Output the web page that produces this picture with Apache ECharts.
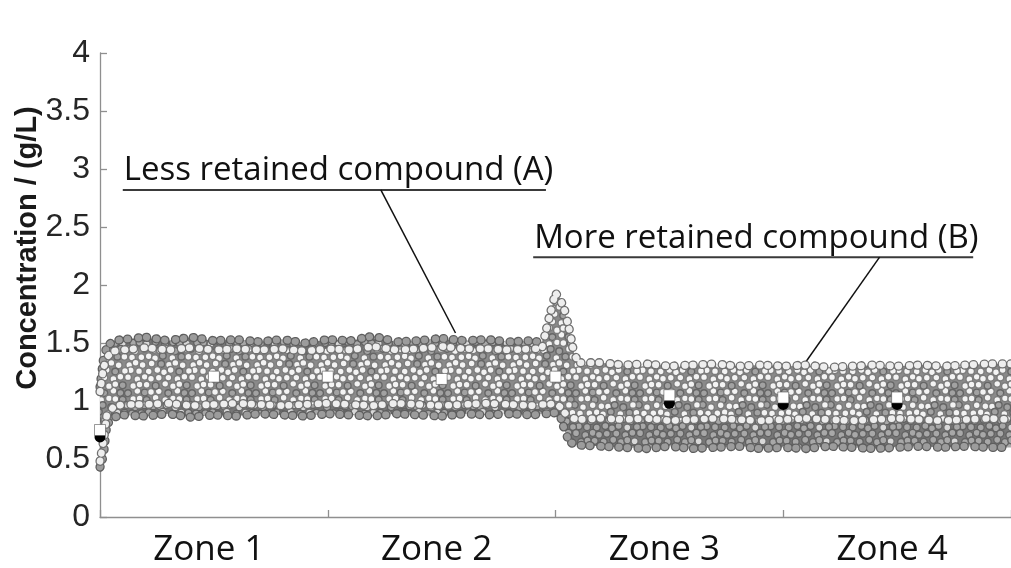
<!DOCTYPE html>
<html>
<head>
<meta charset="utf-8">
<script src="https://cdn.jsdelivr.net/npm/echarts@6/dist/echarts.min.js"></script>
<style>
html,body{margin:0;padding:0;background:#fff;}
#chart{width:1011px;height:568px;}
</style>
</head>
<body>
<div id="chart"></div>
<script>
// ---------------- DATA ----------------
const zones = ['Zone 1', 'Zone 2', 'Zone 3', 'Zone 4'];

// x position along the run, in zone units (0..4)
const envU = [0, 0.015, 0.03, 0.06, 0.1,
  0.2, 0.3, 0.4, 0.5, 0.6, 0.7, 0.8, 0.9,
  1.0, 1.1, 1.2, 1.3, 1.4, 1.5, 1.6, 1.7, 1.8, 1.9,
  1.94, 1.97, 2.0, 2.02, 2.04, 2.06, 2.08, 2.1,
  2.2, 2.3, 2.4, 2.5, 2.6, 2.7, 2.8, 2.9,
  3.0, 3.1, 3.2, 3.3, 3.4, 3.5, 3.6, 3.7, 3.8, 3.9,
  4.0];

// Less retained compound (A): upper / lower edge of the point cloud (g/L)
const aHigh = [1.08, 1.28, 1.38, 1.43, 1.44,
  1.46, 1.44, 1.46, 1.44, 1.45, 1.44, 1.45, 1.43,
  1.45, 1.44, 1.47, 1.44, 1.45, 1.47, 1.45, 1.45, 1.44, 1.45,
  1.45, 1.70, 1.93, 1.88, 1.78, 1.62, 1.42, 1.33,
  1.33, 1.31, 1.32, 1.30, 1.31, 1.32, 1.30, 1.31,
  1.30, 1.31, 1.29, 1.30, 1.31, 1.30, 1.31, 1.30, 1.31, 1.32,
  1.32];
const aLow = [0.48, 0.65, 0.88, 0.95, 0.97,
  0.97, 0.98, 0.96, 0.97, 0.98, 0.97, 0.96, 0.97,
  0.98, 0.97, 0.96, 0.98, 0.97, 0.96, 0.97, 0.98, 0.97, 0.96,
  0.97, 0.97, 0.98, 0.95, 0.90, 0.86, 0.85, 0.84,
  0.85, 0.84, 0.85, 0.83, 0.84, 0.85, 0.84, 0.83,
  0.84, 0.85, 0.84, 0.83, 0.84, 0.85, 0.84, 0.83, 0.84, 0.85,
  0.84];

// More retained compound (B): upper / lower edge of the point cloud (g/L)
const bHigh = [1.12, 1.36, 1.47, 1.52, 1.53,
  1.55, 1.52, 1.55, 1.52, 1.53, 1.51, 1.53, 1.50,
  1.53, 1.52, 1.56, 1.51, 1.52, 1.54, 1.52, 1.53, 1.51, 1.52,
  1.50, 1.52, 1.56, 1.52, 1.38, 1.25, 1.22, 1.21,
  1.22, 1.21, 1.23, 1.21, 1.22, 1.21, 1.23, 1.22,
  1.23, 1.21, 1.22, 1.21, 1.23, 1.22, 1.21, 1.22, 1.23, 1.22,
  1.23];
const bLow = [0.43, 0.53, 0.80, 0.86, 0.88,
  0.87, 0.89, 0.86, 0.88, 0.87, 0.89, 0.88, 0.87,
  0.89, 0.88, 0.87, 0.89, 0.88, 0.87, 0.89, 0.88, 0.89, 0.88,
  0.89, 0.89, 0.90, 0.88, 0.75, 0.65, 0.63, 0.62,
  0.61, 0.60, 0.59, 0.61, 0.59, 0.60, 0.61, 0.59,
  0.60, 0.59, 0.61, 0.60, 0.59, 0.60, 0.61, 0.60, 0.61, 0.60,
  0.60];

// mean markers
const meanU = [0, 0.5, 1, 1.5, 2, 2.5, 3, 3.5];
const meanA = [0.75, 1.21, 1.21, 1.19, 1.21, 1.05, 1.03, 1.03];
const meanB = [0.69, 1.21, 1.21, 1.19, 1.21, 0.98, 0.97, 0.97];

// ---------------- STYLING ----------------
// texture of packed circles used to fill each point cloud (pure styling)
function cellHash(r, k) {
  const s = Math.sin(r * 12.9898 + k * 78.233) * 43758.5453;
  return s - Math.floor(s);
}
function makePattern(bg, mainFill, mainStroke, altFill, altStroke, altShare, rad) {
  const W = 64, H = 56;
  const c = document.createElement('canvas');
  c.width = W; c.height = H;
  const g = c.getContext('2d');
  g.fillStyle = bg; g.fillRect(0, 0, W, H);
  g.lineWidth = 1.4;
  for (let r = 0; r < 8; r++) {
    for (let k = 0; k < 8; k++) {
      const x0 = k * 8 + (r % 2 ? 4 : 0) + 1.4 * Math.sin(r * 2.1 + k * 1.3);
      const y0 = r * 7 + 1.2 * Math.cos(r * 1.7 + k * 2.6);
      const alt = cellHash(r, k) < altShare;
      for (let dx = -W; dx <= W; dx += W) {
        for (let dy = -H; dy <= H; dy += H) {
          g.beginPath();
          g.arc(x0 + dx, y0 + dy, rad, 0, Math.PI * 2);
          g.fillStyle = alt ? altFill : mainFill; g.fill();
          g.strokeStyle = alt ? altStroke : mainStroke; g.stroke();
        }
      }
    }
  }
  return { image: c, repeat: 'repeat' };
}
const patA = makePattern('#8a8a8a', '#f3f3f3', '#7c7c7c', '#a2a2a2', '#666666', 0.14, 3.4);
const patB = makePattern('#767676', '#a8a8a8', '#626262', '#d8d8d8', '#6c6c6c', 0.12, 3.5);

function bandSeries(name, lo, hi, pattern, dotOuter, dotInner, z) {
  return {
    type: 'custom',
    name: name,
    xAxisIndex: 0,
    yAxisIndex: 0,
    z: z,
    silent: true,
    data: envU.map((u, i) => [u, lo[i], hi[i]]),
    renderItem: function (params, api) {
      if (params.dataIndex !== 0) return null;
      const top = [], bot = [];
      for (let i = 0; i < envU.length; i++) {
        const u = api.value(0, i);
        top.push(api.coord([u, api.value(2, i)]));
        bot.push(api.coord([u, api.value(1, i)]));
      }
      const poly = top.concat(bot.slice().reverse());
      const dash = [0.5, 7.5, 0.5, 9.5, 0.5, 8, 0.5, 10.5];
      const dots = (pts, col, w) => ({
        type: 'polyline',
        shape: { points: pts },
        style: { stroke: col, lineWidth: w, lineDash: dash, lineCap: 'round', fill: null }
      });
      return {
        type: 'group',
        children: [
          { type: 'polygon', shape: { points: poly }, style: { fill: pattern, stroke: null } },
          dots(top, dotOuter, 9.2), dots(top, dotInner, 6.6),
          dots(bot, dotOuter, 9.2), dots(bot, dotInner, 6.6)
        ]
      };
    }
  };
}

const axisGrey = '#8f8f8f';
const annotations = [
  { text: 'Less retained compound (A)', u1: 0.1, u2: 1.958, v: 2.82, fromU: 1.233, toU: 1.561, toV: 1.586 },
  { text: 'More retained compound (B)', u1: 1.902, u2: 3.834, v: 2.24, fromU: 3.423, toU: 3.003, toV: 1.069 }
];

const chart = echarts.init(document.getElementById('chart'), null, { renderer: 'canvas' });
const option = {
  animation: false,
  backgroundColor: '#ffffff',
  grid: { left: 100, top: 53, width: 915, height: 464, containLabel: false },
  xAxis: [
    {
      type: 'value', min: 0, max: 4, interval: 1, position: 'bottom',
      axisLine: { show: true, onZero: false, lineStyle: { color: axisGrey, width: 1.3 } },
      axisTick: { show: true, inside: true, length: 7, lineStyle: { color: axisGrey, width: 1.3 } },
      axisLabel: { show: false },
      splitLine: { show: false }
    },
    {
      type: 'category', data: zones, position: 'bottom', offset: 0,
      axisLine: { show: false }, axisTick: { show: false },
      axisLabel: { show: true, fontSize: 35, fontFamily: 'Open Sans', color: '#111', margin: 16, padding: [0, 10, 0, 0] },
      splitLine: { show: false }
    }
  ],
  yAxis: {
    type: 'value', min: 0, max: 4, interval: 0.5,
    axisLine: { show: true, lineStyle: { color: axisGrey, width: 1.3 } },
    axisTick: { show: true, inside: true, length: 7, lineStyle: { color: axisGrey, width: 1.3 } },
    axisLabel: { fontSize: 32, fontFamily: 'Liberation Sans', color: '#262626', margin: 10 },
    splitLine: { show: false }
  },
  series: [
    bandSeries('More retained compound (B)', bLow, bHigh, patB, '#5e5e5e', '#9c9c9c', 1),
    bandSeries('Less retained compound (A)', aLow, aHigh, patA, '#707070', '#eeeeee', 2),
    {
      type: 'scatter', name: 'Mean B', xAxisIndex: 0, yAxisIndex: 0, z: 3,
      symbol: 'circle', symbolSize: 11,
      itemStyle: { color: '#000', opacity: 1 },
      data: meanU.map((u, i) => [u, meanB[i]])
    },
    {
      type: 'scatter', name: 'Mean A', xAxisIndex: 0, yAxisIndex: 0, z: 4,
      symbol: 'rect', symbolSize: 11,
      itemStyle: { color: '#fff', borderColor: '#555', borderWidth: 0.6, opacity: 1 },
      data: meanU.map((u, i) => [u, meanA[i]])
    }
  ]
};
chart.setOption(option);

// annotations, axis title
const g = [];
g.push({
  type: 'text', x: 28, y: 248, rotation: Math.PI / 2,
  style: { text: 'Concentration / (g/L)', font: 'bold 29px "Liberation Sans"', fill: '#1a1a1a', align: 'center', verticalAlign: 'middle' }
});
annotations.forEach(a => {
  const p1 = chart.convertToPixel({ xAxisIndex: 0, yAxisIndex: 0 }, [a.u1, a.v]);
  const p2 = chart.convertToPixel({ xAxisIndex: 0, yAxisIndex: 0 }, [a.u2, a.v]);
  const pf = chart.convertToPixel({ xAxisIndex: 0, yAxisIndex: 0 }, [a.fromU, a.v]);
  const pt = chart.convertToPixel({ xAxisIndex: 0, yAxisIndex: 0 }, [a.toU, a.toV]);
  g.push({ type: 'text', x: p1[0] + 1, y: p1[1] - 19, style: { text: a.text, font: '33px "Open Sans"', fill: '#111', align: 'left', verticalAlign: 'middle' } });
  g.push({ type: 'line', shape: { x1: p1[0], y1: p1[1], x2: p2[0], y2: p2[1] }, style: { stroke: '#3a3a3a', lineWidth: 2 } });
  g.push({ type: 'line', shape: { x1: pf[0], y1: pf[1], x2: pt[0], y2: pt[1] }, style: { stroke: '#111', lineWidth: 1.5 } });
});
chart.setOption({ graphic: g });
</script>
</body>
</html>
